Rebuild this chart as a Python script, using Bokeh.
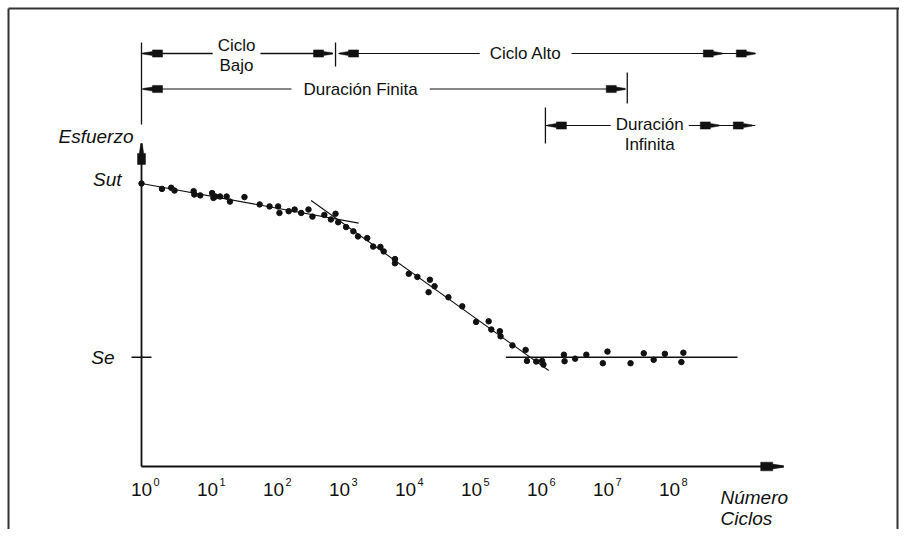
from bokeh.plotting import figure
from bokeh.models import Range1d, Label
from bokeh.core.properties import value
from bokeh.embed import file_html
from bokeh.resources import INLINE

# ---------------- data (log10 of cycles, stress as % of Sut) ----------------
log_cycles = [0.00, 0.31, 0.45, 0.50, 0.79, 0.80, 0.89, 1.07, 1.09, 1.12,
              1.19, 1.29, 1.34, 1.56, 1.79, 1.94, 2.07, 2.09, 2.23, 2.32,
              2.42, 2.53, 2.59, 2.77, 2.87, 2.94, 2.98,
              3.10, 3.21, 3.28, 3.42, 3.51, 3.62, 3.67, 3.84, 3.84, 4.05,
              4.18, 4.37, 4.44, 4.35, 4.65, 4.86, 5.07, 5.26, 5.30, 5.43,
              5.44, 5.62, 5.82, 5.84, 5.98, 6.07, 6.09,
              6.40, 6.41, 6.57, 6.74, 7.06, 6.99, 7.41, 7.61, 7.76, 7.93,
              8.18, 8.21]
stress = [100.0, 98.1, 98.5, 97.5, 97.3, 96.1, 95.8, 96.6, 94.9, 95.4,
          95.4, 95.4, 93.6, 95.2, 92.6, 91.9, 91.9, 89.6, 90.2, 90.8,
          89.6, 90.8, 88.3, 88.9, 87.3, 89.3, 86.3,
          84.6, 83.1, 81.3, 80.7, 77.7, 77.6, 76.0, 73.3, 71.8, 68.1,
          67.0, 66.0, 63.7, 61.6, 59.8, 56.6, 51.1, 51.3, 48.4, 47.8,
          46.0, 42.8, 41.2, 37.3, 37.1, 37.3, 36.0,
          39.5, 37.2, 38.1, 39.5, 40.6, 36.5, 36.5, 40.0, 37.7, 39.8,
          36.9, 40.2]

SUT = 100.0
SE = 38.6

# fitted lines
low_cycle_x = [0.0, 3.29]
low_cycle_y = [100.0, 86.0]
finite_x = [2.57, 6.17]
finite_y = [94.0, 33.9]
endurance_x = [5.52, 9.03]
endurance_y = [SE, SE]

# x tick labels
tick_pos = [0, 1, 2, 3, 4, 5, 6, 7, 8]
tick_exp = ["0", "1", "2", "3", "4", "5", "6", "7", "8"]

# region boundaries (log10 cycles)
b_low_high = 2.94     # Ciclo Bajo / Ciclo Alto
b_finite_end = 7.36   # end of Duración Finita
b_infinite = 6.12     # start of Duración Infinita
arrow_end = 9.30

# ---------------- layout ----------------
W, H = 899, 529
PX_X = 66.0    # px per decade
PX_Y = 2.83    # px per stress unit
X0 = 141       # frame px of x = 0
Y0 = 466       # frame px (from top) of y = 0

p = figure(width=W, height=H, output_backend="svg", toolbar_location=None,
           x_range=Range1d(-X0 / PX_X, (W - X0) / PX_X),
           y_range=Range1d(-(H - Y0) / PX_Y, Y0 / PX_Y),
           x_axis_location=None, y_axis_location=None, min_border=0)
p.grid.visible = False
p.outline_line_color = None
p.background_fill_color = "white"
p.border_fill_color = "white"

INK = "#111111"
FONT = "Liberation Sans"


def dx(px):
    return px / PX_X


def dy(px):
    return px / PX_Y


def xd(px):
    return (px - X0) / PX_X


def yd(py):
    return (Y0 - py) / PX_Y


def head(xt, yt, direction, scale=1.0):
    """arrow head polygon with tip at (xt, yt); direction in 'r','l','u'"""
    shape = [(0, 0.6), (-9, 2.0), (-9, 3.6), (-19, 3.6), (-19, -3.6),
             (-9, -3.6), (-9, -2.0), (0, -0.6)]
    ux, uy = {"r": (1, 0), "l": (-1, 0), "u": (0, 1)}[direction]
    vx, vy = -uy, ux
    xs, ys = [], []
    for a, b in shape:
        a *= scale
        b *= scale
        xs.append(xt + dx(a * ux + b * vx))
        ys.append(yt + dy(a * uy + b * vy))
    return xs, ys


heads = []

# ---------------- frame of the drawing ----------------
p.segment(x0=[xd(8), xd(8)], y0=[yd(8), yd(8)], x1=[xd(8), xd(W)], y1=[yd(H), yd(8)],
          line_color="#333333", line_width=2)
p.segment(x0=[xd(W - 2)], y0=[yd(8)], x1=[xd(W - 2)], y1=[yd(H)],
          line_color="#333333", line_width=2)

# ---------------- axes ----------------
y_tip = yd(143)
x_tip = xd(783)
p.segment(x0=[0, 0], y0=[0, 0], x1=[0, x_tip], y1=[y_tip, 0],
          line_color=INK, line_width=1.8)
heads.append(head(0, y_tip, "u", 1.1))
heads.append(head(x_tip, 0, "r", 1.2))
# Se tick
p.segment(x0=[dx(-10)], y0=[SE], x1=[dx(10)], y1=[SE], line_color=INK, line_width=1.3)

# ---------------- data ----------------
p.line(low_cycle_x, low_cycle_y, line_color=INK, line_width=1.1)
p.line(finite_x, finite_y, line_color=INK, line_width=1.1)
p.line(endurance_x, endurance_y, line_color=INK, line_width=1.5)
p.scatter(log_cycles, stress, size=5.5, marker="circle", fill_color=INK, line_color=INK)

# ---------------- region annotations ----------------
row1 = yd(53)
row2 = yd(88.5)
row3 = yd(125)

seg_x0 = [0, 0, b_low_high, b_finite_end, b_infinite,
          0, b_low_high + dx(3), 0, b_infinite]
seg_y0 = [yd(42), row1, yd(42), yd(72), yd(107),
          row1, row1, row2, row3]
seg_x1 = [0, b_low_high - dx(3), b_low_high, b_finite_end, b_infinite,
          b_low_high - dx(3), arrow_end, b_finite_end - dx(2), arrow_end]
seg_y1 = [yd(124), row1, yd(66), yd(103), yd(143),
          row1, row1, row2, row3]
p.segment(x0=seg_x0[:5], y0=seg_y0[:5], x1=seg_x1[:5], y1=seg_y1[:5],
          line_color=INK, line_width=1.3)
p.segment(x0=seg_x0[5:], y0=seg_y0[5:], x1=seg_x1[5:], y1=seg_y1[5:],
          line_color=INK, line_width=1.1)

heads.append(head(dx(2), row1, "l"))
heads.append(head(b_low_high - dx(3), row1, "r"))
heads.append(head(b_low_high + dx(4), row1, "l"))
heads.append(head(arrow_end - dx(33), row1, "r"))
heads.append(head(arrow_end, row1, "r"))
heads.append(head(dx(2), row2, "l"))
heads.append(head(b_finite_end - dx(2), row2, "r"))
heads.append(head(b_infinite + dx(2), row3, "l"))
heads.append(head(arrow_end - dx(36), row3, "r"))
heads.append(head(arrow_end - dx(3), row3, "r"))

p.patches(xs=[h[0] for h in heads], ys=[h[1] for h in heads],
          fill_color=INK, line_color=INK, line_width=0.5)


def label(x, y, text, size="17px", align="center", baseline="middle",
          italic=False, bg=False, x_offset=0, pad=0):
    kw = dict(x=x, y=y, text=text, text_font=FONT, text_font_size=size,
              text_align=align, text_baseline=baseline, text_color=INK,
              x_offset=x_offset, text_line_height=1.05)
    if italic:
        kw["text_font_style"] = "italic"
    if bg:
        kw["background_fill_color"] = "white"
        kw["padding"] = pad
    p.add_layout(Label(**kw))


label(1.44, yd(55), "Ciclo\nBajo", bg=True, pad=5)
label(5.82, row1, "Ciclo Alto", bg=True, pad=10)
label(3.32, row2, "Duración Finita", bg=True, pad=12)
label(7.70, yd(134), "Duración\nInfinita", bg=True, pad=5)

# axis texts (vertical centres of the glyphs)
label(0, yd(136), "Esfuerzo", size="19px", align="right", italic=True, x_offset=-8)
label(0, yd(179), "Sut", size="19px", align="right", italic=True, x_offset=-20)
label(0, yd(357), "Se", size="19px", align="right", italic=True, x_offset=-27)
label(xd(720), yd(497), "Número", size="19px", align="left", italic=True)
label(xd(720), yd(518), "Ciclos", size="19px", align="left", italic=True)

# tick labels 10^n
p.text(x=tick_pos, y=[yd(489)] * len(tick_pos), text=["10"] * len(tick_pos),
       text_font=value(FONT), text_font_size="19px", text_align="center",
       text_baseline="middle", text_color=INK)
p.text(x=tick_pos, y=[yd(481)] * len(tick_pos), text=tick_exp,
       text_font=value(FONT), text_font_size="11px", text_align="left",
       text_baseline="middle", text_color=INK, x_offset=12)

open("out.html", "w").write(file_html(p, INLINE))
